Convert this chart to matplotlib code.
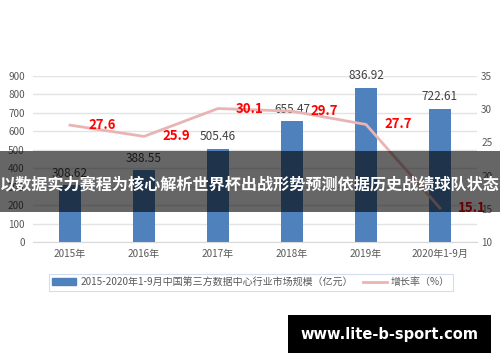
import matplotlib
matplotlib.use("Agg")
import matplotlib.pyplot as plt
from matplotlib.patches import Rectangle, Patch
from matplotlib.lines import Line2D

plt.rcParams['font.family'] = ['Noto Sans CJK SC', 'DejaVu Sans']

categories = ["2015年", "2016年", "2017年", "2018年", "2019年", "2020年1-9月"]
market_size = [308.62, 388.55, 505.46, 655.47, 836.92, 722.61]
growth_rate = [27.6, 25.9, 30.1, 29.7, 27.7, 15.1]
left_ticks = [0, 100, 200, 300, 400, 500, 600, 700, 800, 900]
right_ticks = [10, 15, 20, 25, 30, 35]
bar_label = "2015-2020年1-9月中国第三方数据中心行业市场规模（亿元）"
line_label = "增长率（%）"
banner_text = "以数据实力赛程为核心解析世界杯出战形势预测依据历史战绩球队状态"
watermark = "www.lite-b-sport.com"

W, H = 500, 362
fig = plt.figure(figsize=(W / 100, H / 100), dpi=100)
ax = fig.add_axes([33 / W, 1 - 242 / H, (477 - 33) / W, (242 - 76) / H])
ax2 = ax.twinx()

x = list(range(len(categories)))
bar_color = "#4f81bd"
line_color = "#e8b4b4"
tick_color = "#595959"

ax.bar(x, market_size, width=0.31, color=bar_color, zorder=2)
ax.set_xlim(-0.5, len(categories) - 0.5)
ax.set_ylim(0, 900)
ax.set_yticks(left_ticks)
ax.set_xticks(x)
ax.set_xticklabels(categories)
ax.grid(axis="y", color="#e3e3e3", linewidth=1, zorder=0)
ax.set_axisbelow(True)
for s in ["top", "right", "left"]:
    ax.spines[s].set_visible(False)
ax.spines["bottom"].set_color("#d9d9d9")
ax.tick_params(axis="both", length=0, labelsize=7.2, labelcolor=tick_color)
ax.tick_params(axis="y", pad=6)
ax.tick_params(axis="x", pad=5)

for xi, v in zip(x, market_size):
    ax.annotate(f"{v:.2f}", (xi, v), xytext=(0, 4), textcoords="offset points",
                ha="center", va="bottom", fontsize=8.5, color="#404040",
                fontweight="medium", zorder=5)

ax2.plot(x, growth_rate, color=line_color, linewidth=2, zorder=3)
ax2.set_ylim(10, 35)
ax2.set_yticks(right_ticks)
for s in ["top", "right", "left", "bottom"]:
    ax2.spines[s].set_visible(False)
ax2.tick_params(axis="y", length=0, labelsize=7.2, labelcolor=tick_color, pad=3)

for xi, v in zip(x, growth_rate):
    ax2.annotate(f"{v:.1f}", (xi, v), xytext=(23, 0), textcoords="offset points",
                 ha="center", va="center", fontsize=9.5, color="#ff0000",
                 fontweight="bold", zorder=5)

handles = [Patch(facecolor=bar_color, edgecolor=bar_color),
           Line2D([0], [0], color=line_color, linewidth=2)]
leg = fig.legend(handles, [bar_label, line_label], loc="center",
                 bbox_to_anchor=(251 / W, 1 - 282 / H), ncol=2, fontsize=7.2,
                 frameon=True, fancybox=False, edgecolor="#c9d5ea",
                 handlelength=2.4, handleheight=0.6, columnspacing=1.0,
                 handletextpad=0.4, borderpad=0.35, labelcolor=tick_color)
leg.get_frame().set_linewidth(0.8)

# banner overlay
fig.patches.append(Rectangle((0, 1 - 212 / H), 1, (212 - 151) / H,
                             transform=fig.transFigure, facecolor="black",
                             alpha=0.6, edgecolor="none", zorder=10))
fig.text(0.5, 1 - 185 / H, banner_text, ha="center", va="center",
         fontsize=11.6, fontweight="bold", color="white", zorder=11)

# watermark
fig.patches.append(Rectangle((288 / W, 1 - 353 / H), (491 - 288) / W, (353 - 315) / H,
                             transform=fig.transFigure, facecolor="black",
                             edgecolor="none", zorder=10))
fig.text((288 + 491) / 2 / W, 1 - 334 / H, watermark, ha="center", va="center",
         fontsize=10.5, fontweight="bold", color="white", family="DejaVu Sans", zorder=11)

fig.savefig("out.png", dpi=100)
